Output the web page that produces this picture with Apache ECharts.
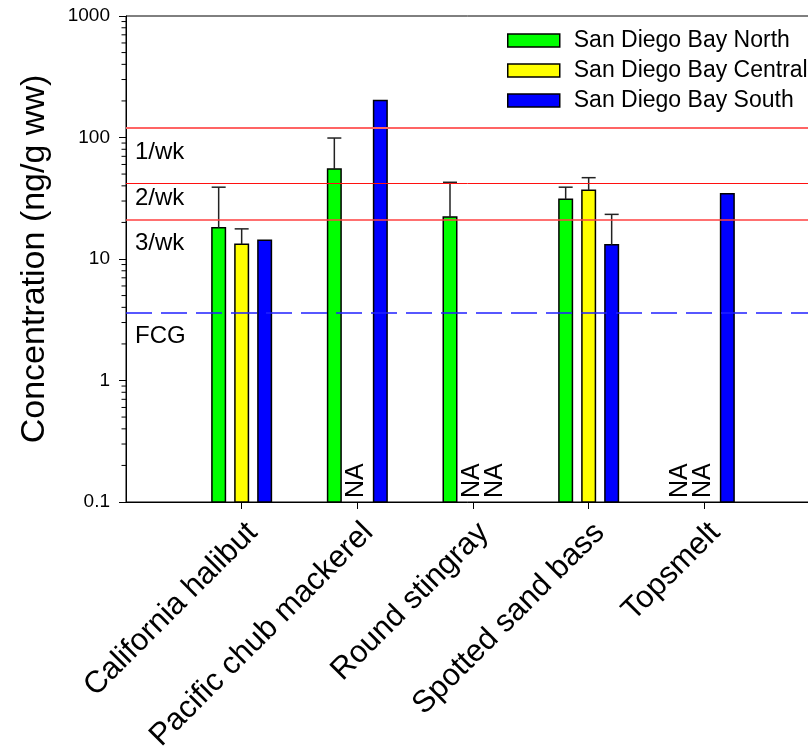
<!DOCTYPE html>
<html><head><meta charset="utf-8">
<script src="https://cdn.jsdelivr.net/npm/echarts@6/dist/echarts.min.js"></script>
<style>html,body{margin:0;padding:0;background:#fff}#c{width:808px;height:749px}</style>
</head><body><div id="c"></div>
<script>
// ---------- data ----------
const categories = ['California halibut', 'Pacific chub mackerel', 'Round stingray', 'Spotted sand bass', 'Topsmelt'];
const seriesNames = ['San Diego Bay North', 'San Diego Bay Central', 'San Diego Bay South'];
const northValues   = [18.1, 55.0, 22.2, 31.0, null];
const northUpper    = [39.0, 99.0, 42.8, 39.0, null];
const centralValues = [13.2, null, null, 36.8, null];
const centralUpper  = [17.7, null, null, 46.7, null];
const southValues   = [14.3, 202, null, 13.1, 34.4];
const southUpper    = [null, null, null, 23.3, null];
const thresholdValues = [120, 41.7, 20.9];
const thresholdLabels = ['1/wk', '2/wk', '3/wk'];
const fcgValue = 3.6;
const fcgLabel = 'FCG';
const yMin = 0.1, yMax = 1000;
const minorTickValues = [0.2,0.3,0.4,0.5,0.6,0.7,0.8,0.9, 2,3,4,5,6,7,8,9, 20,30,40,50,60,70,80,90, 200,300,400,500,600,700,800,900];
const naText = 'NA';
const yTitle = 'Concentration (ng/g ww)';

// ---------- style ----------
const FONT = 'Liberation Sans, Arial, sans-serif';
const BW = 13.5;
const SLOT = 23;

function makeSeries(name, color, values, uppers, offset) {
  return {
    name: name, type: 'custom', coordinateSystem: 'cartesian2d', z: 2,
    itemStyle: { color: color, borderColor: '#000', borderWidth: 1.5 },
    encode: { x: 0, y: 1 },
    data: values.map((v, i) => [i + 1, v == null ? 1 : v]),
    renderItem: function (params, api) {
      const i = params.dataIndex;
      const v = values[i];
      const xc = api.coord([i + 1, 1])[0] + offset;
      const base = api.coord([i + 1, yMin])[1];
      if (v == null) {
        return { type: 'text', x: xc - 1, y: base - 4, rotation: Math.PI / 2,
          style: { text: naText, fontSize: 25, fontFamily: FONT, fill: '#000', align: 'left', verticalAlign: 'middle' } };
      }
      const top = api.coord([i + 1, v])[1];
      const children = [{ type: 'rect', shape: { x: xc - BW / 2, y: top, width: BW, height: base - top },
        style: { fill: color, stroke: '#000', lineWidth: 1.5 } }];
      const u = uppers[i];
      if (u != null) {
        const ut = api.coord([i + 1, u])[1];
        children.push({ type: 'line', shape: { x1: xc, y1: top, x2: xc, y2: ut }, style: { stroke: '#222', lineWidth: 1.5 } });
        children.push({ type: 'line', shape: { x1: xc - 7, y1: ut, x2: xc + 7, y2: ut }, style: { stroke: '#222', lineWidth: 1.5 } });
      }
      return { type: 'group', children: children };
    }
  };
}

const refLabel = (text, dy) => ({ show: true, formatter: text, position: 'insideStartBottom', distance: [9, dy],
  fontSize: 24, fontFamily: FONT, color: '#000' });

const chart = echarts.init(document.getElementById('c'), null, { renderer: 'canvas' });
chart.setOption({
  animation: false,
  backgroundColor: '#fff',
  textStyle: { fontFamily: FONT },
  grid: { left: 126, top: 16, width: 694, height: 486, outerBoundsMode: 'none', containLabel: false,
          show: true, borderColor: '#000', borderWidth: 1, backgroundColor: 'transparent' },
  legend: {
    data: seriesNames, orient: 'vertical', left: 507, top: 29, icon: 'rect', padding: 0,
    itemWidth: 52, itemHeight: 13, itemGap: 7,
    itemStyle: { borderColor: '#000', borderWidth: 1.5 },
    textStyle: { fontSize: 23, lineHeight: 23, color: '#000', fontFamily: FONT, padding: [0, 0, 0, 9] }
  },
  xAxis: {
    type: 'category', data: [''].concat(categories, ['']), boundaryGap: false,
    axisLine: { lineStyle: { color: '#000', width: 1 } },
    axisTick: { interval: (i) => i > 0 && i < categories.length + 1, length: 7, lineStyle: { color: '#000' } },
    axisLabel: { rotate: 45, interval: 0, fontSize: 31, color: '#000', fontFamily: FONT, margin: 15, verticalAlign: 'top' },
    splitLine: { show: false }
  },
  yAxis: {
    type: 'log', logBase: 10, min: yMin, max: yMax,
    name: yTitle, nameLocation: 'middle', nameGap: 74,
    nameTextStyle: { fontSize: 34, color: '#000', fontFamily: FONT },
    axisLine: { show: true, lineStyle: { color: '#000', width: 1 } },
    axisTick: { show: true, length: 7, lineStyle: { color: '#000' } },
    axisLabel: { fontSize: 19, color: '#000', fontFamily: FONT, margin: 16, formatter: (v) => String(v) },
    splitLine: { show: false }
  },
  series: [
    makeSeries(seriesNames[0], '#00ff00', northValues, northUpper, -SLOT),
    makeSeries(seriesNames[1], '#ffff00', centralValues, centralUpper, 0),
    makeSeries(seriesNames[2], '#0000ff', southValues, southUpper, SLOT),
    {
      name: 'minorTicks', type: 'custom', coordinateSystem: 'cartesian2d', z: 3, silent: true,
      encode: { x: 0, y: 1 },
      data: minorTickValues.map((v) => [0, v]),
      renderItem: function (params, api) {
        const p = api.coord([api.value(0), api.value(1)]);
        return { type: 'line', shape: { x1: p[0] - 4.5, y1: p[1], x2: p[0], y2: p[1] }, style: { stroke: '#000', lineWidth: 1 } };
      }
    },
    {
      name: 'ref', type: 'line', data: [], z: 5, silent: true,
      markLine: {
        silent: true, symbol: ['none', 'none'], animation: false,
        data: [
          { yAxis: thresholdValues[0], lineStyle: { color: '#ff6464', width: 2, type: 'solid' }, label: refLabel(thresholdLabels[0], 12) },
          { yAxis: thresholdValues[1], lineStyle: { color: '#ff1010', width: 1, type: 'solid' }, label: refLabel(thresholdLabels[1], 3) },
          { yAxis: thresholdValues[2], lineStyle: { color: '#ff4040', width: 1.5, type: 'solid' }, label: refLabel(thresholdLabels[2], 11) },
          { yAxis: fcgValue, lineStyle: { color: '#2020ff', width: 1.5, type: [26, 9] }, label: refLabel(fcgLabel, 11) }
        ]
      }
    }
  ]
});
</script>
</body></html>
